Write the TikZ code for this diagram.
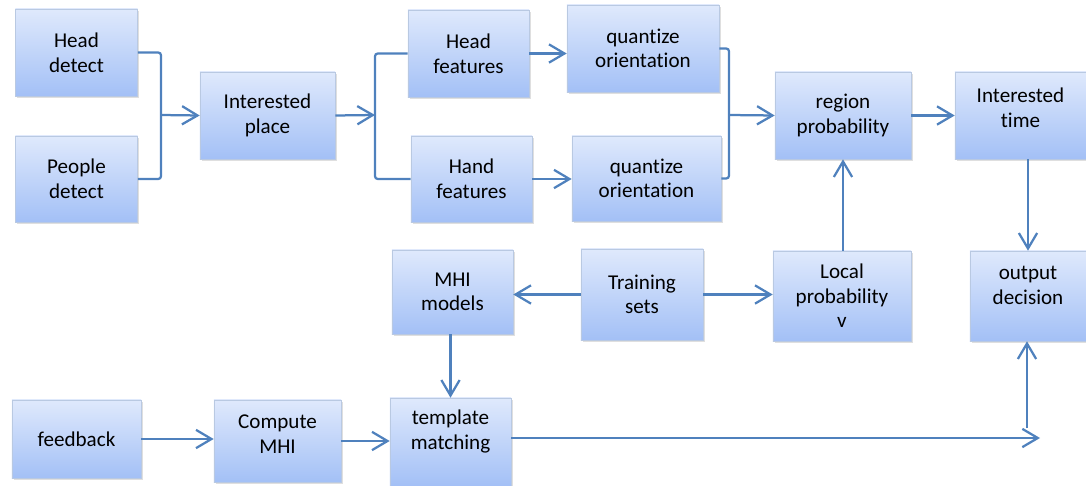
\documentclass[tikz,border=0pt]{standalone}
\usepackage{fontspec}
\setmainfont{Carlito}[Ligatures=NoCommon]
\usetikzlibrary{arrows.meta, positioning, shadows}
\definecolor{boxtop}{HTML}{DFE9FC}
\definecolor{boxbottom}{HTML}{A3C0F6}
\definecolor{boxline}{HTML}{B9C9E2}
\definecolor{flowblue}{HTML}{4F81BD}

\begin{document}
\begin{tikzpicture}[x=0.025cm, y=-0.025cm,
  block/.style={draw=boxline, line width=0.4pt, rectangle, top color=boxtop, bottom color=boxbottom,
    align=center, inner sep=0pt, font=\fontsize{15}{17.5}\selectfont,
    drop shadow={opacity=0.25, shadow xshift=1.2pt, shadow yshift=-1.2pt}},
  flow/.style={draw=flowblue, line width=1.6pt, -{Straight Barb[length=11pt, width=13pt]}},
  link/.style={draw=flowblue, line width=1.6pt, rounded corners=2pt}]
  \useasboundingbox (0,0) rectangle (1086,486);

  % Detection stage
  \node[block, minimum width=3.05cm, minimum height=2.175cm] (headdet) at (76.5,52.5) {Head\\detect};
  \node[block, minimum width=3.05cm, minimum height=2.15cm] (peopledet) at (76.5,179) {People\\detect};
  \node[block, minimum width=3.375cm, minimum height=2.175cm] (place) at (267.5,115.5) {Interested\\place};

  % Feature stage
  \node[block, minimum width=3.025cm, minimum height=2.175cm] (headfeat) at (468.5,53.5) {Head\\features};
  \node[block, minimum width=3.025cm, minimum height=2.15cm] (handfeat) at (471.5,179) {Hand\\features};
  \node[block, minimum width=3.8cm, minimum height=2.175cm] (quanthead) at (643,48.5) {quantize\\orientation};
  \node[block, minimum width=3.725cm, minimum height=2.125cm] (quanthand) at (646.5,178.5) {quantize\\orientation};

  % Probability stage
  \node[block, minimum width=3.4cm, minimum height=2.175cm] (region) at (843,115.5) {region\\probability};
  \node[block, minimum width=3.275cm, minimum height=2.175cm, text depth=11.4pt] (itime) at (1020.5,115.5) {Interested\\time};
  \node[block, minimum width=3.45cm, minimum height=2.25cm] (localp) at (842,296) {Local\\probability\\v};
  \node[block, minimum width=2.9cm, minimum height=2.25cm, text depth=15.6pt] (output) at (1028,296) {output\\decision};

  % Training and MHI
  \node[block, minimum width=3.05cm, minimum height=2.275cm] (training) at (642,294.5) {Training\\sets};
  \node[block, minimum width=3.025cm, minimum height=2.1cm] (mhi) at (452.5,292) {MHI\\models};

  % Bottom row
  \node[block, minimum width=3.225cm, minimum height=1.95cm] (feedback) at (76.5,439) {feedback};
  \node[block, minimum width=3.175cm, minimum height=2.05cm, text depth=10pt] (compute) at (277.5,441) {Compute\\MHI};
  \node[block, minimum width=3.025cm, minimum height=2.2cm, text depth=17.5pt] (template) at (450.5,442) {template\\matching};

  % Junction points
  \coordinate (join) at (161,115);
  \coordinate (split) at (375,115);
  \coordinate (merge) at (729,115);
  \coordinate (outend) at (1040,438);
  \coordinate (outstart) at (1027,428);

  % Arrows
  \draw[link] (headdet.east) -| (join) |- (peopledet.east);
  \draw[flow] (join) -- (place.west);
  \draw[flow] (place.east) -- (split);
  \draw[link] (headfeat.west) -| (split) |- (handfeat.west);
  \draw[flow] (headfeat.east) -- (headfeat.east -| quanthead.west);
  \draw[flow] (handfeat.east) -- (handfeat.east -| quanthand.west);
  \draw[link] (quanthead.east) -| (merge) |- (quanthand.east);
  \draw[flow] (merge) -- (region.west);
  \draw[flow] (region.east) -- (region.east -| itime.west);
  \draw[flow] (itime.south -| output.north) -- (output.north);
  \draw[flow] (localp.north -| region.south) -- (region.south);
  \draw[flow] (training.west) -- (training.west -| mhi.east);
  \draw[flow] (training.east) -- (training.east -| localp.west);
  \draw[flow] (mhi.south -| template.north) -- (template.north);
  \draw[flow] (feedback.east) -- (feedback.east -| compute.west);
  \draw[flow] (compute.east) -- (compute.east -| template.west);
  \draw[flow] (template.east |- outend) -- (outend);
  \draw[flow] (outstart) -- (outstart |- output.south);
\end{tikzpicture}
\end{document}
